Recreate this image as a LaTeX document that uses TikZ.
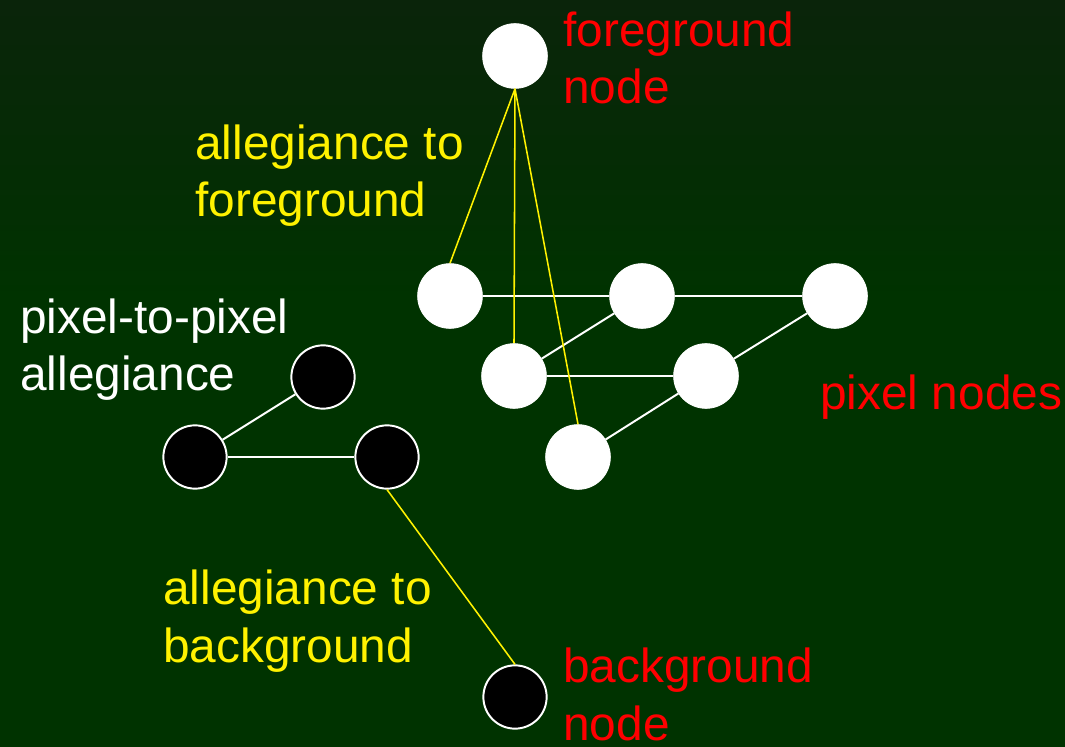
\documentclass[tikz,border=0pt]{standalone}
\usepackage{fontspec}
\setmainfont{Liberation Sans}
\usepackage{xcolor}
\definecolor{SlideGreen}{RGB}{0,51,0}
\definecolor{SlideTop}{RGB}{10,36,10}
\usetikzlibrary{positioning}

\begin{document}
\begin{tikzpicture}[x=0.025cm, y=-0.025cm,
    fgpix/.style={circle, fill=white, draw=white, line width=0.6pt, minimum size=46pt, inner sep=0pt},
    bgpix/.style={circle, fill=black, draw=white, line width=1.4pt, minimum size=45pt, inner sep=0pt},
    tie/.style={draw=white, line width=1.4pt},
    pull/.style={draw=yellow, line width=1.1pt},
    lbl/.style={anchor=base west, align=left, inner sep=0pt,
                font=\fontsize{34}{41}\selectfont}
]
    % slide background
    \useasboundingbox (0,0) rectangle (1065,747);
    \fill[SlideGreen] (0,0) rectangle (1065,747);
    \shade[top color=SlideTop, bottom color=SlideGreen] (0,0) rectangle (1065,300);

    % terminal nodes
    \node[fgpix] (fg) at (515,56) {};
    \node[bgpix] (bg) at (515,697) {};

    % pixel nodes, foreground side
    \node[fgpix] (p1) at (450,296) {};
    \node[fgpix] (p2) at (642,296) {};
    \node[fgpix] (p3) at (835,296) {};
    \node[fgpix] (p4) at (514,376) {};
    \node[fgpix] (p5) at (706,376) {};
    \node[fgpix] (p6) at (578,457) {};

    % pixel nodes, background side
    \node[bgpix] (q1) at (323,377) {};
    \node[bgpix] (q2) at (195,457) {};
    \node[bgpix] (q3) at (387,457) {};

    % pixel-to-pixel links
    \draw[tie] (p1) -- (p2);
    \draw[tie] (p2) -- (p3);
    \draw[tie] (p4) -- (p5);
    \draw[tie] (p4) -- (p2);
    \draw[tie] (p5) -- (p3);
    \draw[tie] (p6) -- (p5);
    \draw[tie] (q2) -- (q3);
    \draw[tie] (q2) -- (q1);

    % links to the terminals
    \draw[pull] (fg.south) -- (p1.north);
    \draw[pull] (fg.south) -- (p4.north);
    \draw[pull] (fg.south) -- (p6.north);
    \draw[pull] (q3.south) -- (bg.north);

    % labels (base = last line)
    \node[lbl, text=red] (fglbl) at (563,104) {foreground\\node};
    \node[lbl, text=yellow] (fglink) at (195,217) {allegiance to\\foreground};
    \node[lbl, text=white] (pplink) at (20,391) {pixel-to-pixel\\allegiance};
    \node[lbl, text=red] (pixlbl) at (820,410) {pixel nodes};
    \node[lbl, text=yellow] (bglink) at (163,662) {allegiance to\\background};
    \node[lbl, text=red] (bglbl) at (563,740) {background\\node};
\end{tikzpicture}
\end{document}
